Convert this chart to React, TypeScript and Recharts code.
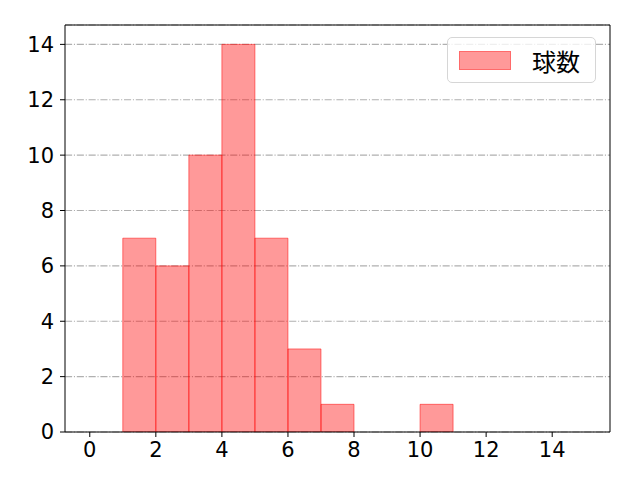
import React from 'react';
import {
  ComposedChart,
  Bar,
  XAxis,
  YAxis,
  CartesianGrid,
  ReferenceLine,
} from 'recharts';

// histogram bins (left edge) and counts
const binStarts = [0, 1, 2, 3, 4, 5, 6, 7, 8, 9, 10, 11, 12, 13, 14];
const counts = [0, 7, 6, 10, 14, 7, 3, 1, 0, 0, 1, 0, 0, 0, 0];
const xTicks = [0, 2, 4, 6, 8, 10, 12, 14];
const yTicks = [0, 2, 4, 6, 8, 10, 12, 14];

const data = binStarts.map((b, i) => ({ bin: b + 0.5, 球数: counts[i] }));

const W = 640;
const H = 480;
const plotW = 545;
const unit = plotW / 16.5;
const pad = 0.75 * unit;
const xMin = -0.75;
const xMax = 15.75;
const yMax = 14.7;
const tickFont = '"DejaVu Sans", sans-serif';
const cjkFont = '"Noto Sans CJK JP", sans-serif';

export default function App() {
  return (
    <div style={{ position: 'absolute', left: 0, top: 0, width: W, height: H, background: '#fff' }}>
      <ComposedChart
        width={W}
        height={H}
        data={data}
        margin={{ top: 25, right: 30, left: 0, bottom: 0 }}
        barCategoryGap={0}
        barGap={0}
      >
        <CartesianGrid
          vertical={false}
          stroke="#b0b0b0"
          strokeWidth={1.1}
          strokeDasharray="7.1 1.8 1.1 1.8"
          xAxisId="cat"
        />
        <XAxis
          xAxisId="cat"
          dataKey="bin"
          type="category"
          hide
          height={0}
          padding={{ left: pad, right: pad }}
        />
        <XAxis
          xAxisId="num"
          dataKey="bin"
          type="number"
          domain={[xMin, xMax]}
          ticks={xTicks}
          allowDataOverflow
          height={48}
          stroke="#000"
          tickSize={5}
          tickMargin={5}
          tick={{ fill: '#000', fontSize: 21, fontFamily: tickFont }}
        />
        <YAxis
          domain={[0, yMax]}
          ticks={yTicks}
          allowDataOverflow
          width={65}
          stroke="#000"
          tickSize={5}
          tickMargin={6}
          tick={{ fill: '#000', fontSize: 21, fontFamily: tickFont }}
        />
        <Bar
          xAxisId="cat"
          dataKey="球数"
          fill="#ff0000"
          fillOpacity={0.4}
          stroke="#ff0000"
          strokeOpacity={0.5}
          strokeWidth={1}
          isAnimationActive={false}
        />
        {/* top and right spines */}
        <ReferenceLine xAxisId="num" y={yMax} stroke="#000" ifOverflow="visible" />
        <ReferenceLine xAxisId="num" x={xMax} stroke="#000" ifOverflow="visible" />
      </ComposedChart>
      <div
        style={{
          position: 'absolute',
          left: 447,
          top: 37,
          boxSizing: 'border-box',
          width: 149,
          height: 46,
          border: '1px solid #d6d6d6',
          borderRadius: 5,
          background: 'rgba(255,255,255,0.8)',
          display: 'flex',
          alignItems: 'center',
          fontFamily: cjkFont,
          fontSize: 24,
          color: '#000',
        }}
      >
        <span
          style={{
            display: 'inline-block',
            marginLeft: 11,
            width: 52,
            height: 19,
            background: 'rgba(255,0,0,0.4)',
            border: '1px solid rgba(255,0,0,0.3)',
            boxSizing: 'border-box',
          }}
        />
        <span style={{ marginLeft: 21 }}>球数</span>
      </div>
    </div>
  );
}
